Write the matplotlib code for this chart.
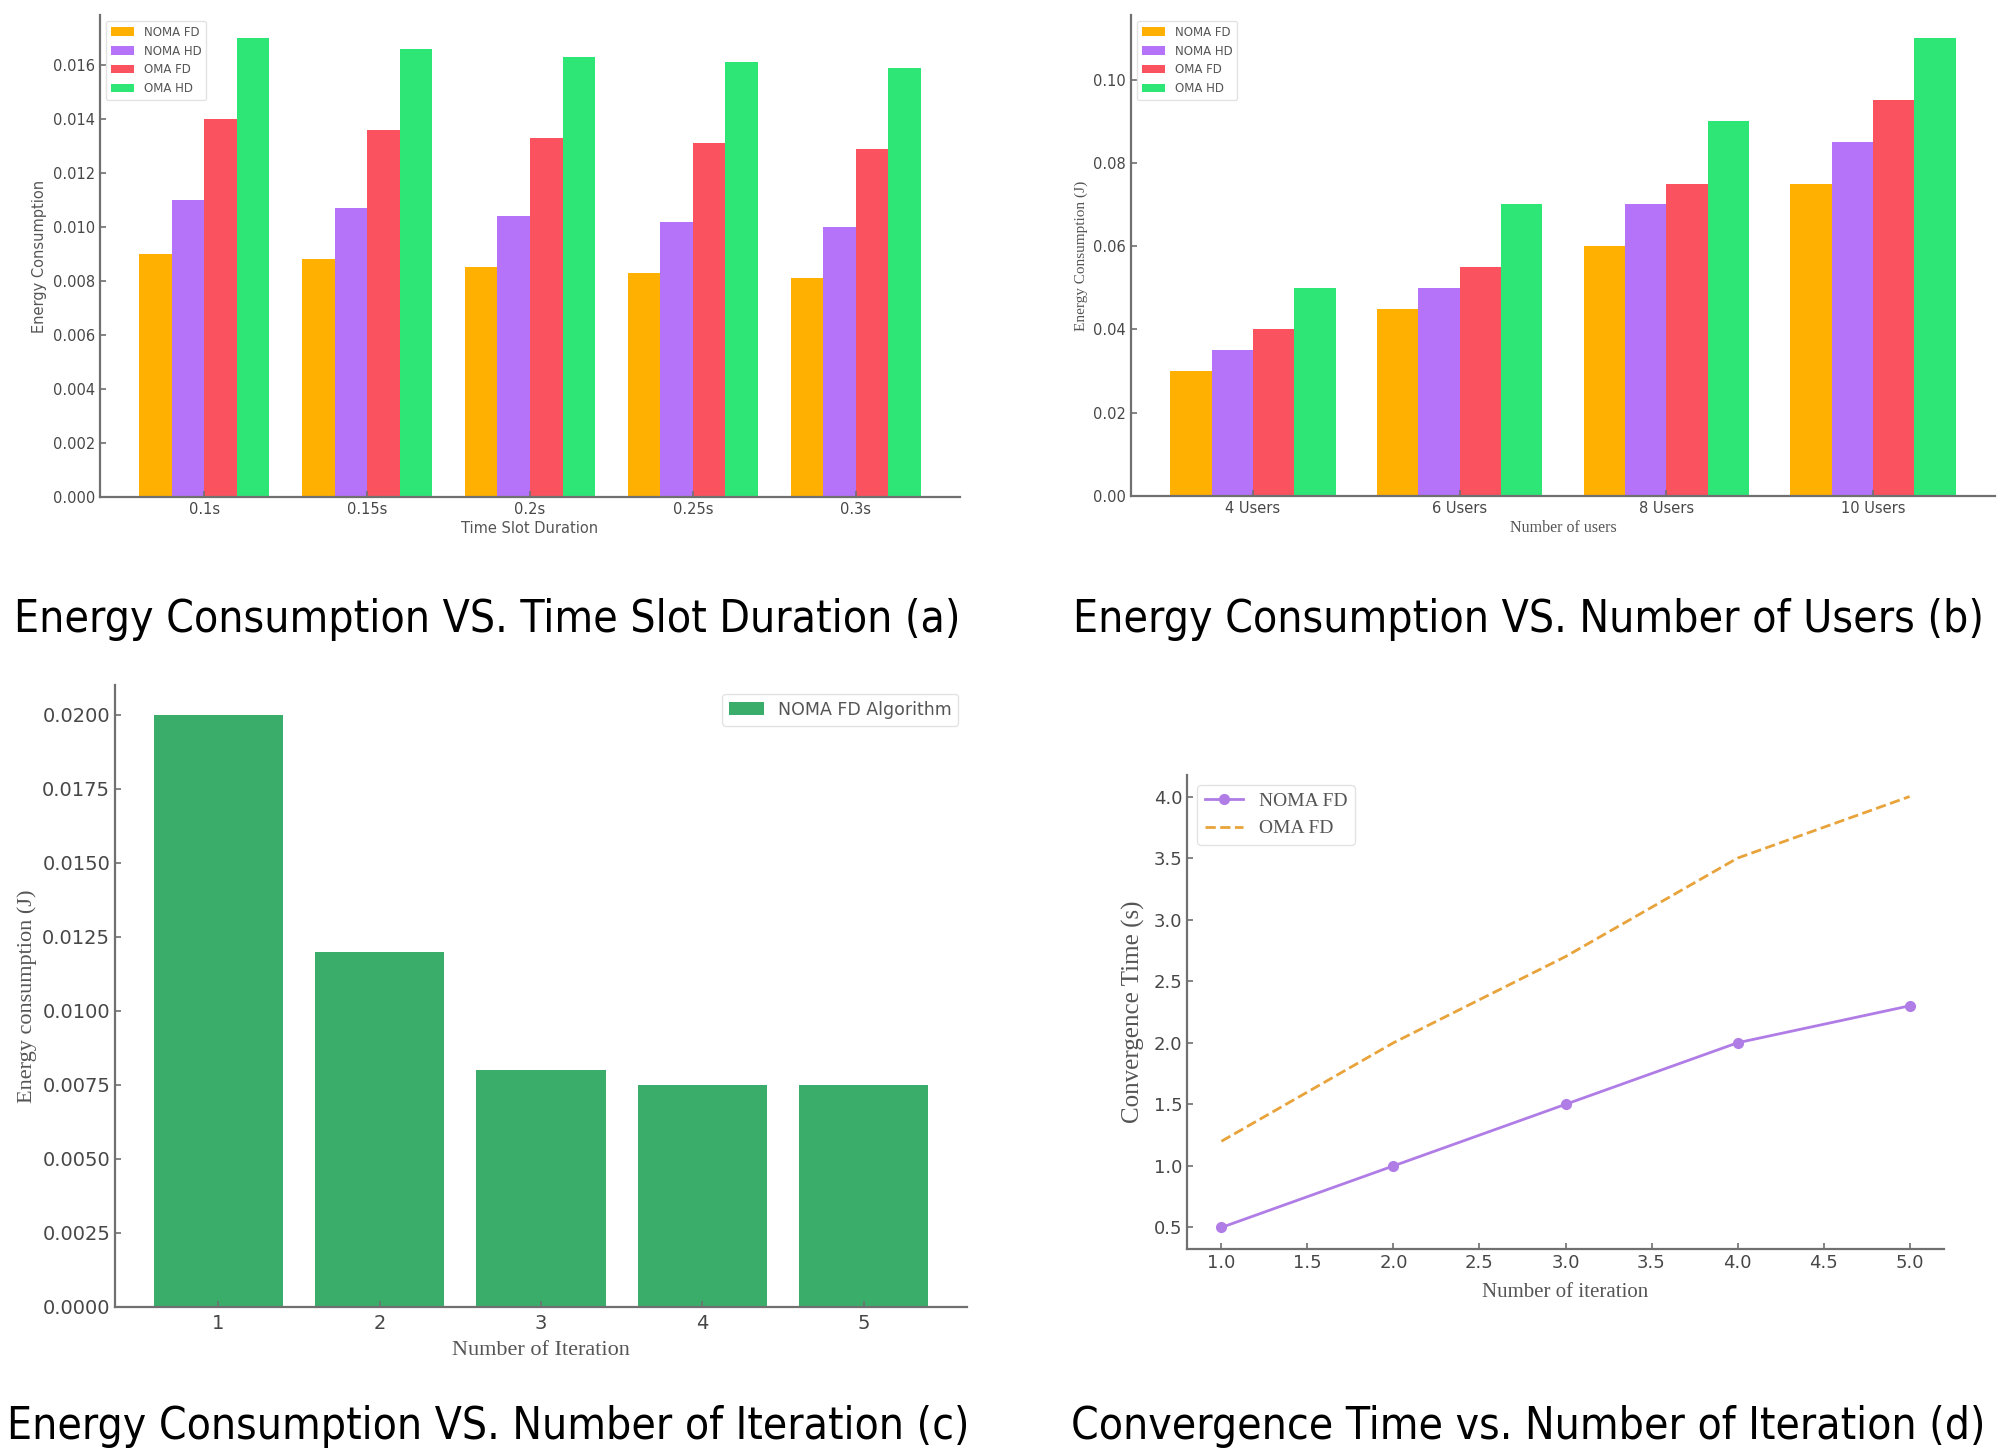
import matplotlib
matplotlib.use('Agg')
import matplotlib.pyplot as plt
import numpy as np
from matplotlib import font_manager
from matplotlib.font_manager import FontProperties

# ---------------- data ----------------
slot_labels = ['0.1s', '0.15s', '0.2s', '0.25s', '0.3s']
a_noma_fd = [0.0090, 0.0088, 0.0085, 0.0083, 0.0081]
a_noma_hd = [0.0110, 0.0107, 0.0104, 0.0102, 0.0100]
a_oma_fd = [0.0140, 0.0136, 0.0133, 0.0131, 0.0129]
a_oma_hd = [0.0170, 0.0166, 0.0163, 0.0161, 0.0159]

user_labels = ['4 Users', '6 Users', '8 Users', '10 Users']
b_noma_fd = [0.030, 0.045, 0.060, 0.075]
b_noma_hd = [0.035, 0.050, 0.070, 0.085]
b_oma_fd = [0.040, 0.055, 0.075, 0.095]
b_oma_hd = [0.050, 0.070, 0.090, 0.110]

series_names = ['NOMA FD', 'NOMA HD', 'OMA FD', 'OMA HD']

iterations = [1, 2, 3, 4, 5]
c_energy = [0.0200, 0.0120, 0.0080, 0.0075, 0.0075]

d_iter = [1.0, 2.0, 3.0, 4.0, 5.0]
d_noma = [0.5, 1.0, 1.5, 2.0, 2.3]
d_oma = [1.2, 2.0, 2.7, 3.5, 4.0]

captions = ['Energy Consumption VS. Time Slot Duration (a)',
            'Energy Consumption VS. Number of Users (b)',
            'Energy Consumption VS. Number of Iteration (c)',
            'Convergence Time vs. Number of Iteration (d)']

# ---------------- style ----------------
bar_colors = ['#FFB000', '#B573FA', '#FA525F', '#2EE676']
SERIF = ['Liberation Serif', 'DejaVu Serif']
SANS = ['DejaVu Sans']

# pick a condensed face for captions if available (Calibri-like look)
cap_prop = None
for f in font_manager.fontManager.ttflist:
    if f.name == 'Liberation Sans Narrow' and f.style == 'normal' and f.weight in (400, 'normal', 'regular'):
        cap_prop = FontProperties(fname=f.fname)
        break
if cap_prop is None:
    for f in font_manager.fontManager.ttflist:
        if f.name == 'DejaVu Sans' and str(f.stretch) in ('condensed', '400', 'semi-condensed') and 'Condensed' in f.fname \
                and f.style == 'normal' and f.weight in (400, 'normal', 'regular') and 'Bold' not in f.fname:
            cap_prop = FontProperties(fname=f.fname)
            break
if cap_prop is None:
    cap_prop = FontProperties(family=['Lato', 'DejaVu Sans'])

plt.rcParams['font.family'] = SANS

fig = plt.figure(figsize=(20.08, 14.54), dpi=100)
W, H = 2008, 1454


def axes_px(l, t, r, b):
    return fig.add_axes([l / W, 1 - b / H, (r - l) / W, (b - t) / H])


def style(ax, tick_size):
    for s in ['top', 'right']:
        ax.spines[s].set_visible(False)
    for s in ['left', 'bottom']:
        ax.spines[s].set_color('#707070')
        ax.spines[s].set_linewidth(1.6)
    ax.tick_params(direction='in', color='#707070', labelcolor='#474747',
                   labelsize=tick_size, length=4, width=1.2)


def grouped(ax, labels, data, legend_size):
    x = np.arange(len(labels))
    w = 0.2
    for i, (vals, name, col) in enumerate(zip(data, series_names, bar_colors)):
        ax.bar(x + (i - 1.5) * w, vals, w, label=name, color=col)
    ax.set_xticks(x)
    ax.set_xticklabels(labels)
    leg = ax.legend(loc='upper left', fontsize=legend_size, frameon=True,
                    labelcolor='#555555')
    leg.get_frame().set_edgecolor('#dddddd')


# (a)
ax1 = axes_px(100, 15, 960, 497)
grouped(ax1, slot_labels, [a_noma_fd, a_noma_hd, a_oma_fd, a_oma_hd], 8.5)
style(ax1, 10.5)
ax1.set_xlabel('Time Slot Duration', fontsize=10.5, color='#555555', labelpad=3)
ax1.set_ylabel('Energy Consumption', fontsize=10.5, color='#555555')

# (b)
ax2 = axes_px(1131, 15, 1995, 496)
grouped(ax2, user_labels, [b_noma_fd, b_noma_hd, b_oma_fd, b_oma_hd], 8.5)
style(ax2, 10.5)
ax2.set_xlabel('Number of users', fontsize=11.5, family=SERIF, color='#555555', labelpad=3)
ax2.set_ylabel('Energy Consumption (J)', fontsize=11, family=SERIF, color='#555555')

# (c)
ax3 = axes_px(115, 685, 967, 1307)
ax3.bar(iterations, c_energy, 0.8, color='#3BAD6B', label='NOMA FD Algorithm')
ax3.set_xticks(iterations)
style(ax3, 14)
ax3.tick_params(axis='x', pad=5)
ax3.yaxis.set_major_formatter(matplotlib.ticker.FormatStrFormatter('%.4f'))
leg3 = ax3.legend(loc='upper right', fontsize=12.5, labelcolor='#555555')
leg3.get_frame().set_edgecolor('#dddddd')
ax3.set_xlabel('Number of Iteration', fontsize=16, family=SERIF, color='#555555', labelpad=6)
ax3.set_ylabel('Energy consumption (J)', fontsize=16, family=SERIF, color='#555555')

# (d)
ax4 = axes_px(1187, 775, 1944, 1249)
ax4.plot(d_iter, d_noma, '-o', color='#B07CE6', lw=2, ms=7, label='NOMA FD')
ax4.plot(d_iter, d_oma, '--', color='#E8A33A', lw=2, label='OMA FD')
style(ax4, 13)
leg4 = ax4.legend(loc='upper left', prop={'family': SERIF, 'size': 14}, labelcolor='#555555')
leg4.get_frame().set_edgecolor('#dddddd')
ax4.set_xlabel('Number of iteration', fontsize=15, family=SERIF, color='#555555', labelpad=8)
ax4.set_ylabel('Convergence Time (s)', fontsize=18, family=SERIF, color='#555555', labelpad=6)

# captions, fitted to target widths
cap_specs = [(487, 632, 947), (1529, 632, 912), (488, 1439, 963), (1528, 1439, 914)]
fig.canvas.draw()
renderer = fig.canvas.get_renderer()
for text, (cx, by, tw) in zip(captions, cap_specs):
    t = fig.text(cx / W, 1 - by / H, text, ha='center', va='baseline',
                 fontproperties=cap_prop.copy(), color='black')
    t.set_fontsize(34)
    wpx = t.get_window_extent(renderer).width
    t.set_fontsize(34 * tw / wpx)

fig.savefig('out.png', dpi=100)
